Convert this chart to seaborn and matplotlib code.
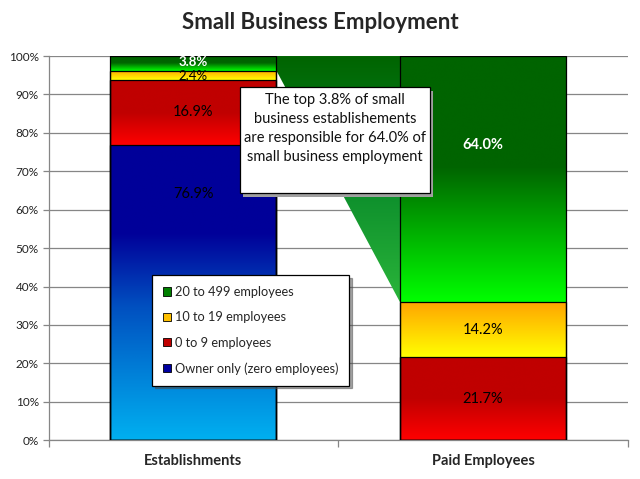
import numpy as np
import matplotlib
matplotlib.use("Agg")
import matplotlib.pyplot as plt
import seaborn as sns
from matplotlib.patches import Polygon, Rectangle, Patch
from matplotlib.colors import LinearSegmentedColormap

# data
categories = ["Establishments", "Paid Employees"]
series = ["Owner only (zero employees)", "0 to 9 employees",
          "10 to 19 employees", "20 to 499 employees"]
owner_only = [76.9, 0.0]
emp_0_9 = [16.9, 21.7]
emp_10_19 = [2.4, 14.2]
emp_20_499 = [3.8, 64.0]

# where the value labels sit inside each segment (0 = bottom, 1 = top)
label_frac_est = [0.835, 0.5, 0.45, 0.6]
label_frac_paid = [0.5, 0.5, 0.5, 0.64]

note = ("The top 3.8% of small\nbusiness establishements\n"
        "are responsible for 64.0% of\nsmall business employment")

# gradient stops per series, bottom -> top
grad_stops = [
    [(0.0, "#00b0f0"), (0.45, "#0050c0"), (0.7, "#000099"), (1.0, "#000099")],
    [(0.0, "#ff0000"), (0.5, "#c00000"), (1.0, "#c00000")],
    [(0.0, "#ffff00"), (1.0, "#ffa500")],
    [(0.0, "#00ff00"), (0.55, "#006400"), (1.0, "#006400")],
]
legend_colors = ["#0000a0", "#c00000", "#ffc000", "#008000"]
label_colors = ["black", "black", "black", "white"]
label_weights = ["normal", "normal", "normal", "bold"]

sns.set_style("white")
plt.rcParams["font.family"] = ["Lato", "DejaVu Sans"]

vals = np.array([owner_only, emp_0_9, emp_10_19, emp_20_499])
tops = np.cumsum(vals, axis=0)
bottoms = tops - vals


def gradient(ax, x0, x1, y0, y1, stops, clip=None):
    cmap = LinearSegmentedColormap.from_list("g", stops)
    grad = np.linspace(0, 1, 256).reshape(-1, 1)
    im = ax.imshow(grad, cmap=cmap, extent=[x0, x1, y0, y1], origin="lower",
                   aspect="auto", zorder=1, interpolation="bicubic")
    if clip is not None:
        im.set_clip_path(clip)
    return im


fig, ax = plt.subplots(figsize=(6.4, 4.79), dpi=100)
fig.subplots_adjust(left=0.076, right=0.981, bottom=0.081, top=0.883)

# stacked bars: draw cumulative tops, tallest first
bar_geom = {}
for i in reversed(range(len(series))):
    n0 = len(ax.patches)
    sns.barplot(x=categories, y=tops[i], ax=ax, width=0.573, color="white",
                errorbar=None, edgecolor="black", linewidth=0.9)
    new = ax.patches[n0:]
    for p in new:
        p.set_facecolor("none")
        p.set_zorder(3)
    bar_geom[i] = [(p.get_x(), p.get_width()) for p in new]

# gradient fills for each segment
for i in range(len(series)):
    for j, (x0, w) in enumerate(bar_geom[i]):
        if vals[i][j] <= 0:
            continue
        gradient(ax, x0, x0 + w, bottoms[i][j], tops[i][j], grad_stops[i])

# connector between the top segment of each bar
x_left = bar_geom[3][0][0] + bar_geom[3][0][1]
x_right = bar_geom[3][1][0]
poly = Polygon([(x_left, tops[3][0]), (x_left, bottoms[3][0]),
                (x_right, bottoms[3][1]), (x_right, tops[3][0])],
               closed=True, facecolor="none", edgecolor="none")
ax.add_patch(poly)
gradient(ax, x_left, x_right, bottoms[3][1], tops[3][0],
         [(0.0, "#2ab53a"), (0.5, "#0a8a2a"), (1.0, "#006400")], clip=poly)

# value labels (small segments get a slightly smaller font)
for i in range(len(series)):
    for j in range(len(categories)):
        if vals[i][j] <= 0:
            continue
        frac = label_frac_est[i] if j == 0 else label_frac_paid[i]
        y = bottoms[i][j] + frac * vals[i][j]
        fs = 10.5 if vals[i][j] > 5 else 9.5
        ax.text(j, y, f"{vals[i][j]:.1f}%", ha="center", va="center",
                fontsize=fs, color=label_colors[i], weight=label_weights[i],
                zorder=4)

# note box with shadow
bx0, bx1, by0, by1 = 0.160, 0.816, 64.3, 91.9
ax.add_patch(Rectangle((bx0 + 0.01, by0 - 0.9), bx1 - bx0, by1 - by0,
                       facecolor="#a0a0a0", edgecolor="none", zorder=5))
ax.add_patch(Rectangle((bx0, by0), bx1 - bx0, by1 - by0,
                       facecolor="white", edgecolor="black", linewidth=0.9,
                       zorder=6))
ax.text((bx0 + bx1) / 2, by1 - 1.6, note, ha="center", va="top",
        fontsize=10.5, linespacing=1.45, color="#111111", zorder=7)

# legend
handles = [Patch(facecolor=legend_colors[i], edgecolor="black", linewidth=0.6,
                 label=series[i]) for i in reversed(range(len(series)))]
leg = ax.legend(handles=handles, loc="upper left",
                bbox_to_anchor=(0.178, 0.43), fontsize=9.2, frameon=True,
                fancybox=False, shadow=True, labelspacing=1.05,
                handlelength=0.65, handleheight=0.65, handletextpad=0.3,
                borderpad=0.85, borderaxespad=0)
leg.get_frame().set_edgecolor("black")
leg.get_frame().set_linewidth(0.9)
leg.set_zorder(8)

# axes styling
ax.set_xlim(-0.5, 1.5)
ax.set_ylim(0, 100)
ax.set_yticks(np.arange(0, 101, 10))
ax.set_yticklabels([f"{v}%" for v in range(0, 101, 10)], fontsize=8.5,
                   color="#222222")
ax.set_xticks([0, 1])
ax.set_xticklabels(categories, fontsize=10.5, weight="bold")
ax.set_xticks([-0.5, 0.5, 1.5], minor=True)
ax.tick_params(axis="x", which="major", length=0, pad=10)
ax.tick_params(axis="x", which="minor", length=5, color="#868686", width=0.9,
               direction="out", bottom=True)
ax.tick_params(axis="y", length=4, color="#868686", width=0.9,
               direction="out", left=True, pad=3)
ax.yaxis.grid(True, color="#868686", linewidth=0.9, zorder=0)
ax.set_axisbelow(True)
for s in ["top", "right"]:
    ax.spines[s].set_visible(False)
for s in ["left", "bottom"]:
    ax.spines[s].set_color("#868686")
    ax.spines[s].set_linewidth(0.9)
ax.set_xlabel("")
ax.set_ylabel("")

fig.suptitle("Small Business Employment", y=0.952, va="center",
             fontsize=16, weight="bold")

fig.savefig("out.png", dpi=100)
